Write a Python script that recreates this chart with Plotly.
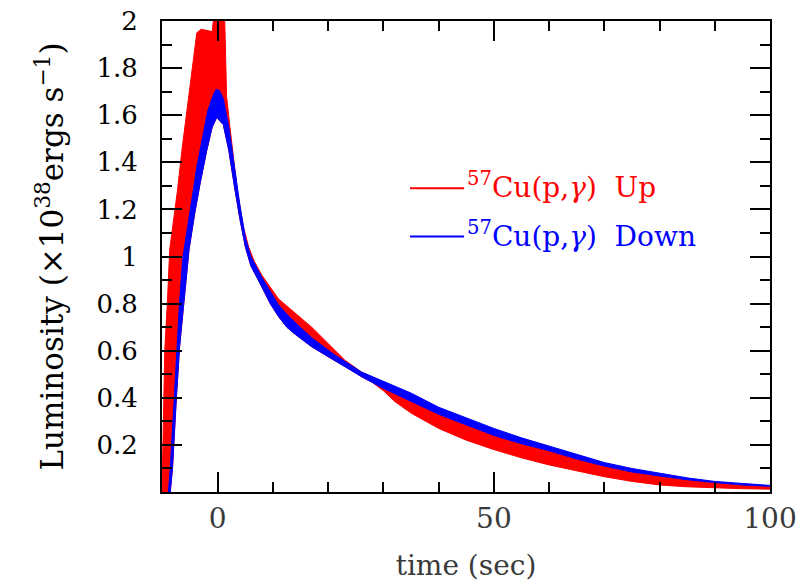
import plotly.graph_objects as go

# ---- data ----
# Red band (57Cu(p,g) Up): outer boundary (left edge on rise, upper envelope on decay)
red_outer_t = [-10.1, -9.9, -9.6, -9.1, -8.7, -8.2, -7.3, -6.5, -5.6, -4.7, -4.2, -3.8, -3.0, -2.0, -1.0,
               -0.6, 1.2, 1.35, 1.6, 2.2, 2.8, 3.6, 4.6, 5.6, 6.6, 8.0, 9.5, 11, 12.5, 14, 15.5, 17, 20,
               23, 26, 30, 35, 40, 45, 50, 55, 60, 65, 70, 75, 80, 85, 90, 95, 100]
red_outer_L = [0, 0.25, 0.6, 0.82, 1.03, 1.12, 1.28, 1.45, 1.62, 1.80, 1.89, 1.95, 1.965, 1.96, 1.955,
               2.05, 2.05, 1.92, 1.68, 1.55, 1.43, 1.27, 1.13, 1.04, 0.98, 0.92, 0.87, 0.82, 0.79, 0.76,
               0.73, 0.70, 0.63, 0.56, 0.51, 0.46, 0.41, 0.35, 0.305, 0.26, 0.22, 0.185, 0.15, 0.118,
               0.093, 0.073, 0.055, 0.042, 0.032, 0.026]
# Red band inner boundary (right edge on rise, lower envelope on decay)
red_inner_t = [-8.6, -8.2, -7.5, -6.9, -6.0, -5.2, -4.2, -3.2, -2.0, -1.0, -0.2, 1.0, 2.0, 3.0, 4.0,
               5.0, 6.0, 8.0, 9.5, 11, 12.5, 14, 17, 21, 24, 26, 28, 30, 32, 35, 40, 45, 50, 55, 60,
               65, 70, 75, 80, 85, 90, 95, 100]
red_inner_L = [0, 0.1, 0.4, 0.62, 0.85, 1.03, 1.18, 1.31, 1.45, 1.55, 1.59, 1.56, 1.45, 1.30, 1.16,
               1.04, 0.96, 0.87, 0.80, 0.745, 0.70, 0.67, 0.617, 0.56, 0.52, 0.49, 0.465, 0.43, 0.385,
               0.335, 0.27, 0.22, 0.18, 0.145, 0.115, 0.09, 0.065, 0.045, 0.03, 0.022, 0.017, 0.014,
               0.012]

# Blue band (57Cu(p,g) Down)
blue_outer_t = [-8.95, -8.6, -8.0, -7.4, -6.9, -6.3, -5.6, -4.7, -3.8, -2.7, -1.8, -0.9, -0.3, 0.3, 1.0,
                2.0, 3.0, 4.0, 5.0, 6.0, 8.0, 9.5, 11, 12.5, 14, 17, 21, 26, 30, 35, 40, 45, 50, 55, 60,
                65, 70, 75, 80, 85, 90, 95, 100]
blue_outer_L = [0, 0.1, 0.35, 0.6, 0.815, 1.0, 1.10, 1.24, 1.38, 1.52, 1.62, 1.68, 1.71, 1.705, 1.67,
                1.55, 1.38, 1.22, 1.08, 1.00, 0.91, 0.85, 0.795, 0.755, 0.72, 0.655, 0.585, 0.51, 0.47,
                0.42, 0.36, 0.315, 0.27, 0.23, 0.195, 0.16, 0.125, 0.10, 0.08, 0.06, 0.045, 0.035, 0.028]
blue_inner_t = [-8.6, -8.2, -7.5, -6.9, -6.0, -5.2, -4.2, -3.2, -2.0, -1.0, -0.2, 1.0, 2.0, 3.0, 4.0,
                5.0, 6.0, 8.0, 9.5, 11, 12.5, 14, 17, 21, 26, 30, 35, 40, 45, 50, 55, 60, 65, 70, 75,
                80, 85, 90, 95, 100]
blue_inner_L = [0, 0.1, 0.4, 0.62, 0.85, 1.03, 1.18, 1.31, 1.45, 1.55, 1.59, 1.56, 1.45, 1.30, 1.16,
                1.04, 0.96, 0.87, 0.80, 0.745, 0.70, 0.67, 0.617, 0.56, 0.49, 0.44, 0.385, 0.33, 0.285,
                0.24, 0.205, 0.175, 0.14, 0.11, 0.085, 0.068, 0.052, 0.04, 0.03, 0.024]

y_tickvals = [0.2, 0.4, 0.6, 0.8, 1.0, 1.2, 1.4, 1.6, 1.8, 2.0]
y_ticktext = ["0.2", "0.4", "0.6", "0.8", "1", "1.2", "1.4", "1.6", "1.8", "2"]
x_tickvals = [0, 50, 100]
x_ticktext = ["0", "50", "100"]

series_names = ["<sup>57</sup>Cu(p,<i>γ</i>)  Up", "<sup>57</sup>Cu(p,<i>γ</i>)  Down"]
RED = "#ff0000"
BLUE = "#0000ff"
FONT = "DejaVu Serif"

fig = go.Figure()


def band(outer_t, outer_L, inner_t, inner_L, color, name):
    xs = list(outer_t) + list(reversed(inner_t))
    ys = list(outer_L) + list(reversed(inner_L))
    fig.add_trace(go.Scatter(x=xs, y=ys, mode="lines", fill="toself", fillcolor=color,
                             line=dict(color=color, width=1), name=name, showlegend=False,
                             hoverinfo="skip"))


band(red_outer_t, red_outer_L, red_inner_t, red_inner_L, RED, "Up")
band(blue_outer_t, blue_outer_L, blue_inner_t, blue_inner_L, BLUE, "Down")

# legend (drawn manually to match the original layout)
leg_y = [1.30, 1.095]
for name, color, yy in zip(series_names, [RED, BLUE], leg_y):
    fig.add_shape(type="line", x0=34.8, x1=44.6, y0=yy - 0.01, y1=yy - 0.01, xref="x", yref="y",
                  line=dict(color=color, width=2))
    fig.add_annotation(x=44.8, y=yy, xref="x", yref="y", text=name, showarrow=False,
                       xanchor="left", yanchor="middle", font=dict(family=FONT, size=28, color=color))

axis_common = dict(showline=True, linecolor="black", linewidth=2, mirror="ticks", ticks="inside",
                   tickcolor="black", tickwidth=2, ticklen=20, showgrid=False, zeroline=False,
                   ticklabeloverflow="allow")

fig.update_xaxes(range=[-10.1, 100], tickmode="array", tickvals=x_tickvals, ticktext=x_ticktext,
                 tickfont=dict(family=FONT, size=28, color="#3a3a3a"),
                 minor=dict(ticks="inside", dtick=10, tick0=0, ticklen=10, tickwidth=2,
                            tickcolor="black", showgrid=False),
                 title=dict(text="time (sec)", font=dict(family=FONT, size=28, color="#3a3a3a"),
                            standoff=22),
                 ticklabelstandoff=0, **axis_common)
fig.update_yaxes(range=[0, 2], tickmode="array", tickvals=y_tickvals, ticktext=y_ticktext,
                 tickfont=dict(family=FONT, size=26, color="black"),
                 minor=dict(ticks="inside", dtick=0.1, tick0=0, ticklen=10, tickwidth=2,
                            tickcolor="black", showgrid=False),
                 title=dict(text="Luminosity (×10<sup>38</sup>ergs s<sup>−1</sup>)",
                            font=dict(family=FONT, size=31, color="black"), standoff=24),
                 ticklabelstandoff=17, **axis_common)

# the page body adds an 8px offset, so the figure is sized to fit the window
fig.update_layout(width=797, height=578, paper_bgcolor="white", plot_bgcolor="white",
                  margin=dict(l=154, r=35, t=13, b=94, autoexpand=False), showlegend=False)

fig.write_html("out.html")
